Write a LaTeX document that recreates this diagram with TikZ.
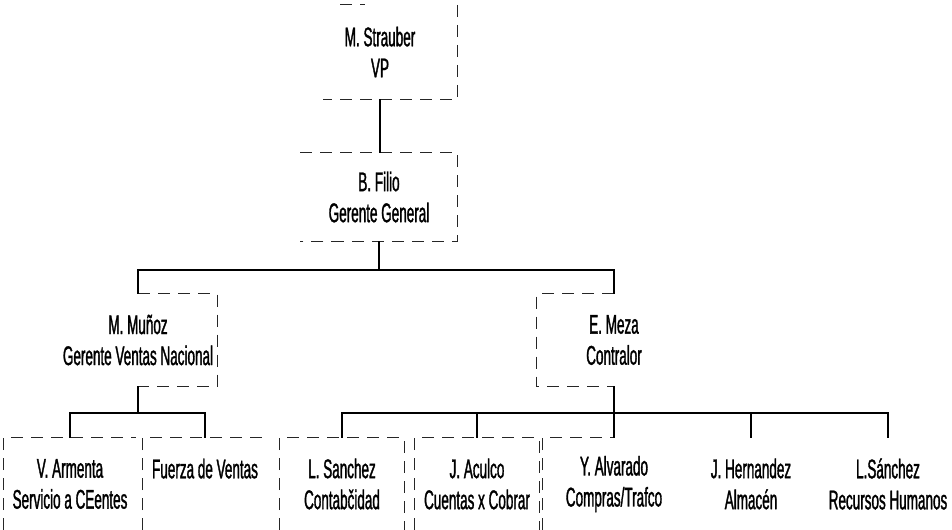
\documentclass[tikz,border=0pt]{standalone}
\usepackage{fontspec}
\setmainfont[FakeStretch=0.5, FakeBold=1.2]{Liberation Sans}
\begin{document}
\begin{tikzpicture}[x=1bp,y=-1bp,
  post/.style={align=center, inner sep=0pt,
    font=\fontsize{27bp}{31bp}\selectfont},
  link/.style={line width=1.5bp, black},
  frame/.style={line width=0.8bp, black!85, dash pattern=on 12bp off 8bp}]
\useasboundingbox (0,0) rectangle (952,530);

% levels of the chart
\node[post, minimum width=154bp, minimum height=94bp] (vp) at (380,52) {M. Strauber\\VP};
\node[post, minimum width=157bp, minimum height=88bp] (gg) at (379,197) {B. Filio\\Gerente General};
\node[post, minimum width=158bp, minimum height=92bp] (mm) at (138,340) {M. Muñoz\\Gerente Ventas Nacional};
\node[post, minimum width=154bp, minimum height=92bp] (em) at (614,340) {E. Meza\\Contralor};

\node[post, minimum width=132bp, minimum height=92bp] (va) at (70,484) {V. Armenta\\Servicio a CEentes};
\node[post, minimum width=124bp, minimum height=92bp] (fv) at (205,484) {Fuerza de Ventas\\\mbox{}};
\node[post, minimum width=124bp, minimum height=92bp] (ls) at (342,484) {L. Sanchez\\Contabčidad};
\node[post, minimum width=124bp, minimum height=92bp] (ja) at (477,484) {J. Aculco\\Cuentas x Cobrar};
\node[post, minimum width=142bp, minimum height=92bp] (ya) at (614,484) {Y. Alvarado\\Compras/Trafco};
\node[post, minimum width=124bp, minimum height=92bp] (jh) at (751,484) {J. Hernandez\\Almacén};
\node[post, minimum width=130bp, minimum height=92bp] (lsa) at (888,484) {L.Sánchez\\Recursos Humanos};

% broken box outlines
\draw[frame] ([xshift=-40bp]vp.north) -- ([xshift=-15bp]vp.north);
\draw[frame] (vp.north east) -- (vp.south east) -- ([xshift=20bp]vp.south west);
\draw[frame] (gg.north west) -- (gg.north east) -- (gg.south east) -- (gg.south west);
\draw[frame] (mm.north) -- (mm.north east) -- (mm.south east) -- (mm.south);
\draw[frame] (em.north) -- (em.north west) -- (em.south west) -- (em.south);
\draw[frame] (va.south west) -- (va.north west) -- (va.north east);
\draw[frame] (fv.south west) -- (fv.north west) -- (fv.north east);
\draw[frame] (ls.south west) -- (ls.north west) -- (ls.north east) -- (ls.south east);
\draw[frame] (ja.south west) -- (ja.north west) -- (ja.north east) -- (ja.south east);
\draw[frame] (ya.south west) -- (ya.north west) -- (ya.north);

% reporting lines
\coordinate (bus1) at (0,270);
\coordinate (bus2) at (0,413);
\draw[link] (vp.south) -- (vp.south |- gg.north);
\draw[link] (gg.south) -- (gg.south |- bus1);
\draw[link] (mm.north) -- (mm.north |- bus1) -| (em.north);
\draw[link] (mm.south) -- (mm.south |- bus2);
\draw[link] (va.north) -- (va.north |- bus2) -| (fv.north);
\draw[link] (em.south) -- (ya.north);
\draw[link] (ls.north) -- (ls.north |- bus2) -| (lsa.north);
\draw[link] (ja.north) -- (ja.north |- bus2);
\draw[link] (jh.north) -- (jh.north |- bus2);
\end{tikzpicture}
\end{document}
